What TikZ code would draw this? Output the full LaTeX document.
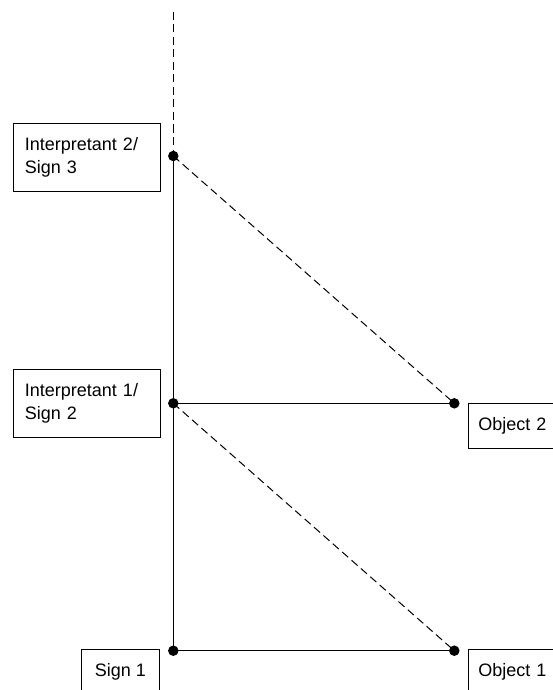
\documentclass[tikz,border=0pt]{standalone}
\usepackage{fontspec}
\setmainfont{Liberation Sans}
\begin{document}
\begin{tikzpicture}[x=1pt,y=-1pt,
  every node/.style={font=\fontsize{18}{22.7}\selectfont},
  labelbox/.style={draw,line width=0.9pt,rectangle,anchor=north west,align=left,inner ysep=0pt},
  dot/.style={circle,fill=black,inner sep=0pt,minimum size=10.5pt},
  solidline/.style={line width=1pt},
  dashline/.style={line width=1pt,dash pattern=on 8pt off 4.5pt}]
\useasboundingbox (0,0) rectangle (553,690);
\clip (0,0) rectangle (553,690);
% dots
\node[dot] (i2) at (173.3,156) {};
\node[dot] (i1) at (173.3,403.3) {};
\node[dot] (s1) at (173.3,650.7) {};
\node[dot] (o2) at (454.3,403.3) {};
\node[dot] (o1) at (454.3,650.7) {};
\coordinate (top) at (173.3,12);
% connectors
\draw[dashline] (top) -- (i2.center);
\draw[solidline] (i2.center) -- (i1.center) -- (s1.center);
\draw[solidline] (i1.center) -- (o2.center);
\draw[solidline] (s1.center) -- (o1.center);
\draw[dashline] (i2.center) -- (o2.center);
\draw[dashline] (i1.center) -- (o1.center);
% boxes
\node[labelbox,text width=123pt,inner xsep=12pt,minimum height=68pt] (bi2) at (12.5,122.7) {Interpretant 2/\\Sign 3};
\node[labelbox,text width=123pt,inner xsep=12pt,minimum height=68pt] (bi1) at (12.5,369) {Interpretant 1/\\Sign 2};
\node[labelbox,text width=90pt,inner xsep=10pt,minimum height=45pt] (bo2) at (468,403) {Object 2};
\node[labelbox,text width=90pt,inner xsep=10pt,minimum height=45pt] (bo1) at (468,649) {Object 1};
\node[labelbox,align=center,inner xsep=0pt,minimum width=78pt,minimum height=45pt] (bs1) at (81,649) {Sign 1};
\end{tikzpicture}
\end{document}
